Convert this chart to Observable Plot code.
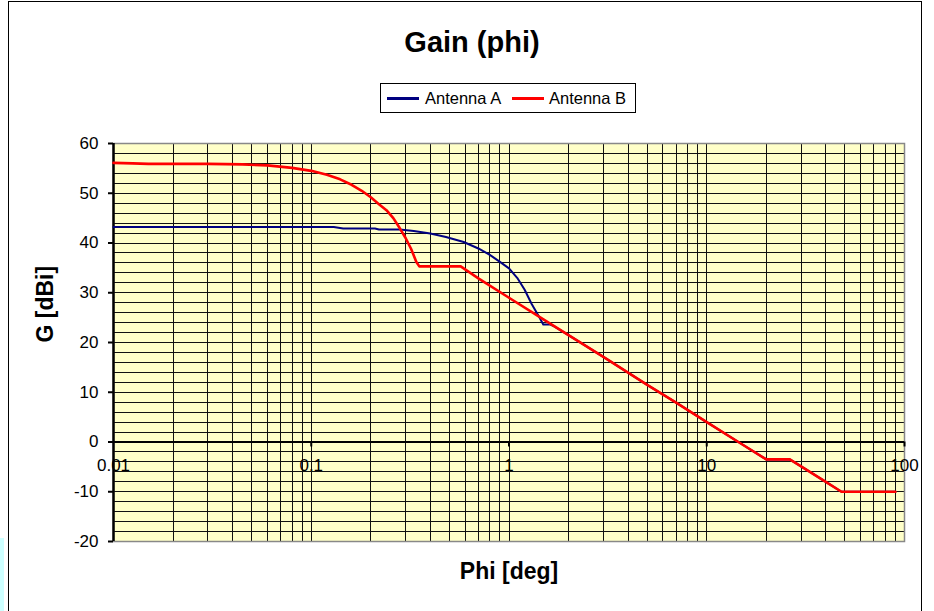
<!DOCTYPE html>
<html>
<head>
<meta charset="utf-8">
<script src="https://cdn.jsdelivr.net/npm/d3@7"></script>
<script src="https://cdn.jsdelivr.net/npm/@observablehq/plot@0.6"></script>
<style>
  html, body { margin: 0; padding: 0; background: #fff; }
  body { font-family: "Liberation Sans", Arial, sans-serif; }
  #wrap { position: relative; width: 934px; height: 611px; overflow: hidden; background: #fff; }
  #border { position: absolute; left: 8px; top: 1px; width: 914px; height: 630px; border: 1px solid #000; box-sizing: border-box; }
  #strip { position: absolute; left: 0; top: 538px; width: 4px; height: 73px; background: #ccffff; }
  #title { position: absolute; left: 0; width: 944px; top: 28px; text-align: center; font-weight: bold; font-size: 29px; line-height: 29px; color: #000; }
  #legend { position: absolute; left: 380px; top: 83px; width: 256px; height: 30px; border: 1px solid #000; box-sizing: border-box; background: #fff; }
  #legend .sw { position: absolute; top: 13px; width: 32px; height: 3px; }
  #legend .lb { position: absolute; top: 5px; font-size: 16.5px; line-height: 18px; color: #000; white-space: nowrap; }
  #chart { position: absolute; left: 0; top: 118px; }
</style>
</head>
<body>
<div id="wrap">
  <div id="strip"></div>
  <div id="border"></div>
  <div id="title">Gain (phi)</div>
  <div id="legend"></div>
  <div id="chart"></div>
</div>
<script>
// ---- data ----
const seriesNames = ["Antenna A", "Antenna B"];
const seriesColors = ["#000080", "#ff0000"];

const aPhi  = [0.01, 0.13, 0.145, 0.21, 0.22, 0.28, 0.33, 0.4, 0.48, 0.59, 0.7, 0.8, 0.9, 1.0, 1.1, 1.2, 1.3, 1.4, 1.49, 1.62, 1.7, 2, 3, 5, 7, 10, 15, 20, 26.3, 30, 40, 48, 90];
const aGain = [43.2, 43.2, 42.9, 42.9, 42.7, 42.7, 42.4, 41.9, 41.2, 40.2, 38.9, 37.6, 36.2, 34.9, 33.0, 30.6, 27.8, 25.6, 23.6, 23.6, 23.2, 21.5, 17.1, 11.5, 7.9, 4.0, -0.4, -3.5, -3.5, -4.9, -8.0, -10, -10];

const bPhi  = [0.01, 0.0125, 0.015, 0.03, 0.045, 0.06, 0.08, 0.1, 0.12, 0.14, 0.16, 0.18, 0.2, 0.22, 0.24, 0.26, 0.28, 0.3, 0.32, 0.34, 0.352, 0.57, 0.7, 1, 1.5, 2, 3, 5, 7, 10, 15, 20, 26.3, 30, 40, 48, 90];
const bGain = [56.1, 56.0, 55.9, 55.9, 55.8, 55.6, 55.1, 54.5, 53.7, 52.8, 51.7, 50.5, 49.2, 47.8, 46.6, 45.0, 43.0, 41.0, 38.8, 36.2, 35.3, 35.3, 32.9, 29.0, 24.6, 21.5, 17.1, 11.5, 7.9, 4.0, -0.4, -3.5, -3.5, -4.9, -8.0, -10, -10];

const xTicks = [0.01, 0.1, 1, 10, 100];
const xTickLabels = ["0.01", "0.1", "1", "10", "100"];
const yTicks = [-20, -10, 0, 10, 20, 30, 40, 50, 60];
const xDomain = [0.01, 100];
const yDomain = [-20, 60];

// ---- build tables ----
const A = aPhi.map((x, i) => ({x, y: aGain[i]}));
const B = bPhi.map((x, i) => ({x, y: bGain[i]}));

// grid positions: 1..9 x each decade, plus the last decade boundary
const gridX = [];
for (const dec of xTicks.slice(0, -1)) for (let k = 1; k <= 9; k++) gridX.push(+(k * dec).toPrecision(3));
gridX.push(xTicks[xTicks.length - 1]);
const gridY = d3.range(yDomain[0], yDomain[1] + 1, 2);

// ---- legend ----
const legend = document.getElementById("legend");
const legendPos = [[6, 44], [131, 168]];
seriesNames.forEach((name, i) => {
  const sw = document.createElement("div");
  sw.className = "sw"; sw.style.left = legendPos[i][0] + "px"; sw.style.background = seriesColors[i];
  const lb = document.createElement("div");
  lb.className = "lb"; lb.style.left = legendPos[i][1] + "px"; lb.textContent = name;
  legend.appendChild(sw); legend.appendChild(lb);
});

// ---- chart ----
const chart = Plot.plot({
  width: 934,
  height: 493,
  marginLeft: 113,
  marginRight: 30,
  marginTop: 25,
  marginBottom: 70,
  style: {fontFamily: '"Liberation Sans", Arial, sans-serif', fontSize: "17px", background: "transparent", color: "#000", overflow: "visible"},
  x: {type: "log", domain: xDomain},
  y: {domain: yDomain},
  marks: [
    Plot.frame({fill: "#ffffc8", stroke: null}),
    Plot.gridX(gridX, {stroke: "#111", strokeOpacity: 1, strokeWidth: 1, shapeRendering: "crispEdges"}),
    Plot.gridY(gridY, {stroke: "#111", strokeOpacity: 1, strokeWidth: 1, shapeRendering: "crispEdges"}),
    Plot.frame({stroke: "#888", strokeWidth: 1.5}),
    Plot.ruleY([0], {stroke: "#000", strokeWidth: 2.2}),
    Plot.ruleX([xDomain[0]], {stroke: "#000", strokeWidth: 2.5}),
    Plot.ruleX(xTicks.slice(1), {x: d => d, y1: 0, y2: -1, stroke: "#000", strokeWidth: 2}),
    Plot.axisY({ticks: yTicks, tickFormat: d => String(d), tickSize: 5, tickPadding: 10, strokeWidth: 2, label: null, fontSize: 17}),
    Plot.axisX({ticks: [], label: null}),
    Plot.text(xTicks, {x: d => d, y: 0, text: (d, i) => xTickLabels[i], dy: 24, fontSize: 17, fill: "#000"}),
    Plot.line(A, {x: "x", y: "y", stroke: seriesColors[0], strokeWidth: 2}),
    Plot.line(B, {x: "x", y: "y", stroke: seriesColors[1], strokeWidth: 2.6}),
    Plot.text(["G [dBi]"], {frameAnchor: "left", rotate: -90, dx: -68, fontSize: 23, fontWeight: "bold", fill: "#000"}),
    Plot.text(["Phi [deg]"], {frameAnchor: "bottom", dy: 37, fontSize: 23, fontWeight: "bold", fill: "#000"})
  ]
});
document.getElementById("chart").appendChild(chart);
</script>
</body>
</html>
